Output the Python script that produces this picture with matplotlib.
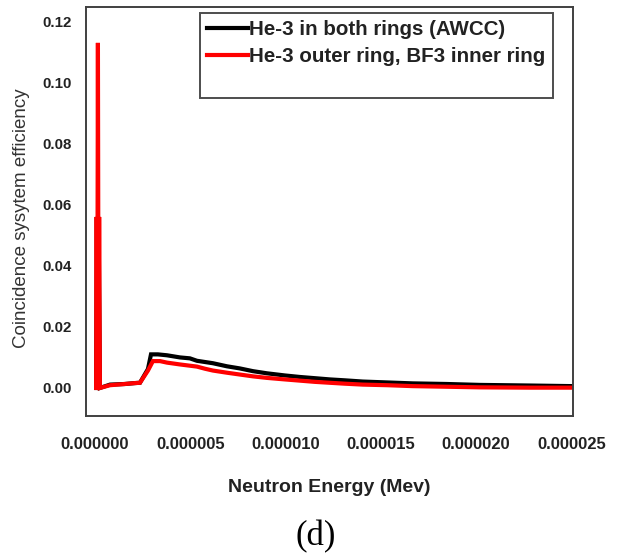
import matplotlib
matplotlib.use("Agg")
import matplotlib.pyplot as plt
from matplotlib.lines import Line2D
from matplotlib.ticker import FormatStrFormatter

plt.rcParams['font.family'] = ['Liberation Sans', 'DejaVu Sans']

# Energies in units of 1e-6 MeV
black_E = [0.06, 0.10, 0.14, 0.19, 0.26, 0.79, 1.57, 2.10, 2.36, 2.78, 2.94, 3.30, 3.78,
           4.46, 4.98, 5.35, 6.19, 6.92, 7.60, 8.29, 9.02, 9.96, 10.75, 11.54, 12.32,
           13.11, 14.05, 15.36, 16.67, 18.46, 20.19, 22.81, 25.07]
black_v = [0.0, 0.056, 0.0, 0.056, 0.0, 0.0011, 0.0013, 0.0016, 0.0017, 0.0062, 0.0110,
           0.0110, 0.0107, 0.0100, 0.0097, 0.0089, 0.0081, 0.0071, 0.0064, 0.0055, 0.0048,
           0.0041, 0.0036, 0.0032, 0.0028, 0.0025, 0.0021, 0.0018, 0.0015, 0.0013, 0.0010,
           0.0008, 0.0006]

red_E = [0.06, 0.09, 0.12, 0.155, 0.19, 0.22, 0.26, 0.79, 1.57, 2.10, 2.36, 2.78, 3.04,
         3.41, 3.78, 4.46, 5.35, 5.77, 6.19, 6.92, 7.60, 8.29, 9.02, 9.96, 10.75, 11.54,
         12.32, 13.11, 14.05, 15.36, 16.67, 18.46, 20.19, 22.81, 25.07]
red_v = [0.0, 0.056, 0.0, 0.113, 0.0, 0.056, 0.0, 0.0009, 0.0013, 0.0016, 0.0017, 0.0057,
         0.0088, 0.0088, 0.0083, 0.0077, 0.0070, 0.0063, 0.0057, 0.0050, 0.0044, 0.0038,
         0.0033, 0.0028, 0.0024, 0.0020, 0.0017, 0.0014, 0.0011, 0.0009, 0.0006, 0.0004,
         0.0002, 0.0001, 0.0001]

x_ticks = [0.0, 0.000005, 0.000010, 0.000015, 0.000020, 0.000025]
y_ticks = [0.00, 0.02, 0.04, 0.06, 0.08, 0.10, 0.12]

labels = ["He-3 in both rings (AWCC)", "He-3 outer ring, BF3 inner ring"]

fig = plt.figure(figsize=(6.23, 5.57), dpi=100)
ax = fig.add_axes([86/623, 1-416/557, (573-86)/623, (416-7)/557])

ax.plot([e*1e-6 for e in black_E], black_v, color='black', lw=3.0, solid_joinstyle='miter')
ax.plot([e*1e-6 for e in red_E], red_v, color='#ff0000', lw=3.0, solid_joinstyle='miter')

ax.set_xlim(-0.47e-6, 25.08e-6)
ax.set_ylim(-0.00918, 0.12475)
ax.set_xticks(x_ticks)
ax.set_yticks(y_ticks)
ax.xaxis.set_major_formatter(FormatStrFormatter('%.6f'))
ax.yaxis.set_major_formatter(FormatStrFormatter('%.2f'))
ax.tick_params(axis='both', length=0)
ax.tick_params(axis='x', pad=15, labelsize=12)
ax.tick_params(axis='y', pad=10, labelsize=10.8)
for t in ax.get_xticklabels() + ax.get_yticklabels():
    t.set_fontweight('bold')
    t.set_color('#222222')
for s in ax.spines.values():
    s.set_color('#404040')
    s.set_linewidth(1.4)

ax.set_xlabel("Neutron Energy (Mev)", fontsize=14, fontweight='bold', color='#222222')
ax.xaxis.set_label_coords(0.5, -(488-416)/409)
ax.xaxis.label.set_va('center')
ax.set_ylabel("Coincidence sysytem efficiency", fontsize=13.5, color='#333333')
ax.yaxis.set_label_coords(-(86-22)/487, (416-218)/409)
ax.yaxis.label.set_va('center')

handles = [Line2D([], [], color='black', lw=3),
           Line2D([], [], color='#ff0000', lw=3),
           Line2D([], [], color='none', lw=0)]
leg = ax.legend(handles, labels + [" "], loc='upper left',
                bbox_to_anchor=((200-86)/487, (416-13)/409),
                prop={'weight': 'bold', 'size': 14.8}, frameon=True, fancybox=False,
                borderpad=0.35, handlelength=2.0, handletextpad=0.05, labelspacing=0.4,
                borderaxespad=0)
leg.get_texts()[2].set_fontsize(8)
leg.get_frame().set_edgecolor('#202020')
leg.get_frame().set_linewidth(1.4)
for t in leg.get_texts():
    t.set_color('#222222')

fig.text(316/623, 1-537/557, "(d)", ha='center', va='center', fontsize=25,
         family=['Liberation Serif', 'DejaVu Serif'])

fig.savefig("out.png", dpi=100)
